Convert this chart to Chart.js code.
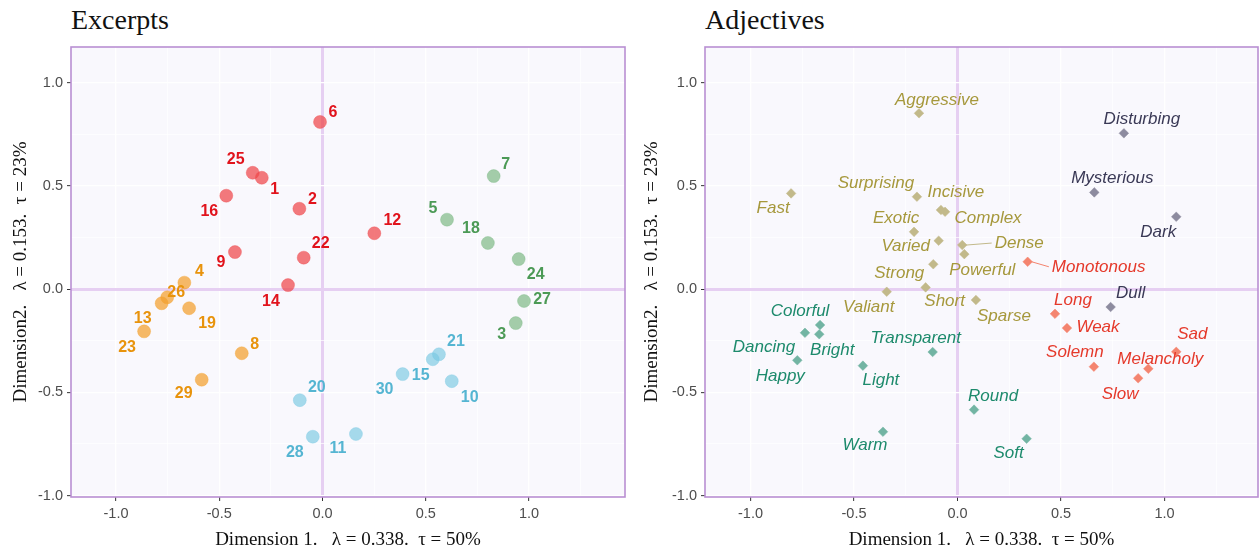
<!DOCTYPE html>
<html>
<head>
<meta charset="utf-8">
<script src="https://cdn.jsdelivr.net/npm/chart.js@4.4.1/dist/chart.umd.min.js"></script>
<style>
  body { margin: 0; background: #fff; width: 1259px; height: 548px; overflow: hidden; position: relative; }
  canvas { position: absolute; top: 0; }
  .panel-title { position: absolute; top: 4px; font-family: "Liberation Serif", "Times New Roman", serif; font-size: 28px; color: #111; }
</style>
</head>
<body>
<div class="panel-title" style="left:71px">Excerpts</div>
<div class="panel-title" style="left:705px">Adjectives</div>
<canvas id="excerpts" width="630" height="548" style="left:0"></canvas>
<canvas id="adjectives" width="623" height="548" style="left:636px"></canvas>
<script>
// ---- Excerpts (left panel) ----
const excerptIds = ['1','2','3','4','5','6','7','8','9','10','11','12','13','14','15','16',
  '18','19','20','21','22','23','24','25','26','27','28','29','30'];
const excerptDim1 = [-0.294, -0.112, 0.936, -0.669, 0.603, -0.012, 0.829, -0.391, -0.424, 0.626,
  0.162, 0.251, -0.779, -0.167, 0.534, -0.466, 0.801, -0.646, -0.110, 0.564, -0.091, -0.864,
  0.950, -0.338, -0.752, 0.976, -0.047, -0.585, 0.388];
const excerptDim2 = [0.539, 0.389, -0.165, 0.031, 0.336, 0.809, 0.547, -0.311, 0.179, -0.446,
  -0.702, 0.270, -0.069, 0.019, -0.340, 0.452, 0.223, -0.093, -0.538, -0.316, 0.152, -0.205,
  0.145, 0.563, -0.040, -0.058, -0.715, -0.439, -0.412];
// 0 red, 1 orange, 2 green, 3 blue
const excerptCluster = [0, 0, 2, 1, 2, 0, 2, 1, 0, 3, 3, 0, 1, 0, 3, 0, 2, 1, 3, 3, 0, 1, 2, 0, 1, 2, 3, 1, 3];

// label placement (pixels from the point), like ggrepel did it
const excerptLabelDx = [13, 13, -14, 15, -14, 13, 12, 13, -14, 18, -18, 18, -19, -17, -12, -17,
  -17, 18, 17, 17, 17, -17, 17, -17, 9, 18, -18, -18, -18];
const excerptLabelDy = [12, -9, 11, -11, -11, -9, -11, -9, 11, 16, 15, -13, 15, 16, 16, 16,
  -14, 15, -13, -13, -14, 16, 16, -13, -5, -1, 16, 14, 15];

// ---- Adjectives (right panel) ----
const adjectiveNames = ['Aggressive', 'Fast', 'Surprising', 'Incisive', 'Complex', 'Exotic', 'Varied',
  'Dense', 'Powerful', 'Strong', 'Short', 'Valiant', 'Sparse',
  'Colorful', 'Bright', 'Dancing', 'Happy', 'Light', 'Transparent', 'Warm', 'Round', 'Soft',
  'Disturbing', 'Mysterious', 'Dark', 'Dull',
  'Monotonous', 'Long', 'Weak', 'Solemn', 'Melancholy', 'Sad', 'Slow'];
const adjectiveDim1 = [-0.186, -0.804, -0.196, -0.080, -0.060, -0.210, -0.091, 0.023, 0.033, -0.117,
  -0.154, -0.342, 0.089,
  -0.664, -0.668, -0.737, -0.774, -0.457, -0.120, -0.360, 0.080, 0.334,
  0.804, 0.661, 1.057, 0.740,
  0.339, 0.471, 0.529, 0.659, 0.922, 1.057, 0.873];
const adjectiveDim2 = [0.851, 0.463, 0.447, 0.383, 0.374, 0.277, 0.234, 0.213, 0.169, 0.120,
  0.008, -0.013, -0.053,
  -0.174, -0.219, -0.212, -0.345, -0.371, -0.305, -0.691, -0.584, -0.725,
  0.754, 0.468, 0.350, -0.087,
  0.132, -0.120, -0.189, -0.376, -0.386, -0.304, -0.432];
// 0 khaki, 1 teal, 2 dark, 3 red
const adjectiveCluster = [0, 0, 0, 0, 0, 0, 0, 0, 0, 0, 0, 0, 0,
  1, 1, 1, 1, 1, 1, 1, 1, 1,
  2, 2, 2, 2,
  3, 3, 3, 3, 3, 3, 3];

const adjectiveLabelDx = [18, -18, -41, 15, 43, -18, -33, 57, 18, -34, 19, -18, 28,
  -20, 13, -41, -17, 18, -17, -18, 19, -18,
  18, 18, -18, 20,
  71, 18, 31, -19, 12, 16, -18];
const adjectiveLabelDy = [-13, 15, -13, -18, 6, -14, 6, -2, 16, 9, 14, 16, 16,
  -14, 16, 14, 16, 15, -14, 14, -13, 15,
  -14, -14, 16, -14,
  5, -14, -1, -14, -9, -18, 16];
const adjectiveLeader = ['Dense', 'Monotonous'];

const excerptColors = [
  { point: 'rgba(238,70,74,0.72)', label: '#e1131c' },
  { point: 'rgba(243,160,44,0.72)', label: '#e8930c' },
  { point: 'rgba(110,178,118,0.62)', label: '#4c9a56' },
  { point: 'rgba(120,200,226,0.65)', label: '#55b5d2' }
];
const adjectiveColors = [
  { point: '#c2b98a', label: '#a6983c' },
  { point: '#72b4a3', label: '#1d8a6c' },
  { point: '#8d8b9f', label: '#3a3956' },
  { point: '#f4846f', label: '#e5392b' }
];

const frameAndLabels = {
  id: 'frameAndLabels',
  beforeDraw(chart) {
    const { ctx, chartArea: a } = chart;
    ctx.save();
    ctx.fillStyle = '#f9f8fd';
    ctx.fillRect(a.left, a.top, a.right - a.left, a.bottom - a.top);
    ctx.restore();
  },
  afterDatasetsDraw(chart, args, opts) {
    const ctx = chart.ctx;
    ctx.save();
    ctx.font = opts.font;
    ctx.textAlign = 'center';
    ctx.textBaseline = 'middle';
    chart.data.datasets.forEach((ds, di) => {
      chart.getDatasetMeta(di).data.forEach((pt, i) => {
        const tx = pt.x + ds.labelDx[i];
        const ty = pt.y + ds.labelDy[i];
        if (opts.leaders && opts.leaders.includes(ds.names[i])) {
          const w = ctx.measureText(ds.names[i]).width;
          ctx.strokeStyle = ds.backgroundColor;
          ctx.lineWidth = 1;
          ctx.beginPath();
          ctx.moveTo(pt.x + 4, pt.y);
          ctx.lineTo(tx - w / 2 - 3, ty);
          ctx.stroke();
        }
        ctx.fillStyle = ds.labelColor;
        ctx.fillText(ds.names[i], tx, ty);
      });
    });
    ctx.restore();
  },
  afterDraw(chart) {
    const { ctx, chartArea: a } = chart;
    ctx.save();
    ctx.strokeStyle = '#b98fd3';
    ctx.lineWidth = 1.6;
    ctx.strokeRect(a.left, a.top, a.right - a.left, a.bottom - a.top);
    ctx.restore();
  }
};

const isMajor = v => Math.abs(v * 2 - Math.round(v * 2)) < 1e-6;

function axis(min, max, title, isX, yWidth, titlePad) {
  return {
    type: 'linear',
    min: min,
    max: max,
    afterFit: s => {
      if (isX) s.height = 51; else s.width = yWidth;
      s.paddingLeft = 0; s.paddingRight = 0; s.paddingTop = 0; s.paddingBottom = 0;
    },
    border: { display: false },
    grid: {
      color: c => (Math.abs(c.tick.value) < 1e-9 ? '#e6cff2' : '#ffffff'),
      lineWidth: c => (Math.abs(c.tick.value) < 1e-9 ? 3 : (isMajor(c.tick.value) ? 1.3 : 0.7)),
      tickColor: c => (isMajor(c.tick.value) ? '#333333' : 'rgba(0,0,0,0)'),
      tickWidth: 1,
      tickLength: 4,
      drawTicks: true
    },
    ticks: {
      stepSize: 0.25,
      maxTicksLimit: 30,
      includeBounds: false,
      autoSkip: false,
      maxRotation: 0,
      padding: 4,
      color: '#4d4d4d',
      font: { family: '"Liberation Sans", Arial, sans-serif', size: 14.5 },
      callback: v => (isMajor(v) ? (Math.abs(v) < 1e-9 ? '0.0' : v.toFixed(1)) : '')
    },
    title: {
      display: true,
      text: title,
      color: '#111',
      font: { family: '"Liberation Serif", "Times New Roman", serif', size: 19, lineHeight: isX ? 0.8 : 1 },
      padding: isX ? { top: 0, bottom: 0 } : { top: titlePad, bottom: 0 }
    }
  };
}

function buildDatasets(names, xs, ys, clusters, dx, dy, colors, shape, radius) {
  return colors.map((col, k) => {
    const idx = clusters.map((c, i) => (c === k ? i : -1)).filter(i => i >= 0);
    return {
      data: idx.map(i => ({ x: xs[i], y: ys[i] })),
      names: idx.map(i => names[i]),
      labelDx: idx.map(i => dx[i]),
      labelDy: idx.map(i => dy[i]),
      labelColor: col.label,
      backgroundColor: col.point,
      borderColor: col.point,
      borderWidth: 0.5,
      pointStyle: shape,
      pointRadius: radius,
      pointHoverRadius: radius
    };
  });
}

const xTitle = 'Dimension 1.   \u03bb = 0.338.  \u03c4 = 50%';
const yTitle = 'Dimension2.   \u03bb = 0.153.  \u03c4 = 23%';

new Chart(document.getElementById('excerpts'), {
  type: 'scatter',
  data: {
    datasets: buildDatasets(excerptIds, excerptDim1, excerptDim2, excerptCluster,
      excerptLabelDx, excerptLabelDy, excerptColors, 'circle', 6.5)
  },
  options: {
    responsive: false,
    animation: false,
    devicePixelRatio: 1,
    layout: { autoPadding: false, padding: { top: 47, right: 5, left: 0, bottom: 0 } },
    scales: {
      x: axis(-1.218, 1.465, xTitle, true),
      y: axis(-1.007, 1.172, yTitle, false, 71, 12)
    },
    plugins: {
      legend: { display: false },
      tooltip: { enabled: false },
      frameAndLabels: { font: 'bold 16px "Liberation Sans", Arial, sans-serif' }
    }
  },
  plugins: [frameAndLabels]
});

new Chart(document.getElementById('adjectives'), {
  type: 'scatter',
  data: {
    datasets: buildDatasets(adjectiveNames, adjectiveDim1, adjectiveDim2, adjectiveCluster,
      adjectiveLabelDx, adjectiveLabelDy, adjectiveColors, 'rectRot', 4.8)
  },
  options: {
    responsive: false,
    animation: false,
    devicePixelRatio: 1,
    layout: { autoPadding: false, padding: { top: 47, right: 1, left: 0, bottom: 0 } },
    scales: {
      x: axis(-1.22, 1.452, xTitle, true),
      y: axis(-1.007, 1.172, yTitle, false, 69, 7)
    },
    plugins: {
      legend: { display: false },
      tooltip: { enabled: false },
      frameAndLabels: { font: 'italic 17px "Liberation Sans", Arial, sans-serif', leaders: adjectiveLeader }
    }
  },
  plugins: [frameAndLabels]
});
</script>
</body>
</html>
